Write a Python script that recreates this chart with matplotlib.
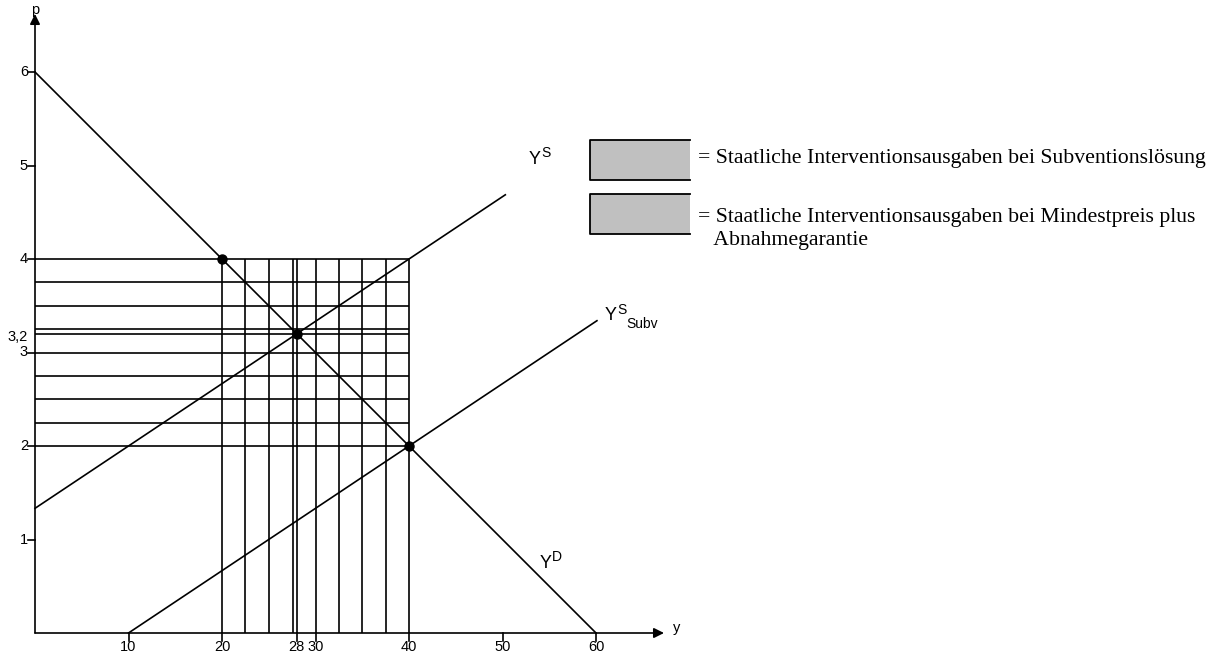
import matplotlib
matplotlib.use('Agg')
import matplotlib.pyplot as plt
from matplotlib.patches import Rectangle

# ── data ──
demand_x = [0, 60]
demand_p = [6, 0]
supply_x = [0, 50.3]
supply_p = [4 / 3, 4 / 3 + 50.3 / 15]
subv_x = [10, 60.1]
subv_p = [0, (60.1 - 10) / 15]
points_x = [20, 28, 40]
points_p = [4, 3.2, 2]
vgrid_x = [20, 22.5, 25, 27.6, 28, 30, 32.5, 35, 37.5, 40]
hgrid_p = [2, 2.25, 2.5, 2.75, 3, 3.2, 3.25, 3.5, 3.75, 4]
xticks = [10, 20, 28, 30, 40, 50, 60]
xtick_labels = ['10', '20', '28', '30', '40', '50', '60']
yticks = [1, 2, 3, 3.2, 4, 5, 6]
ytick_labels = ['1', '2', '3', '3,2', '4', '5', '6']
legend_texts = ['= Staatliche Interventionsausgaben bei Subventionslösung',
                '= Staatliche Interventionsausgaben bei Mindestpreis plus\n   Abnahmegarantie']

SX = 9.35   # px per unit y
SP = 93.5   # px per unit p
X0, P0 = 35, 633
W, H = 1226, 661

fig = plt.figure(figsize=(W / 100, H / 100), dpi=100)
ax = fig.add_axes([0, 0, 1, 1])
ax.set_xlim(-X0 / SX, (W - X0) / SX)
ax.set_ylim(-(H - P0) / SP, P0 / SP)
ax.axis('off')

def px(x):
    return (x - X0) / SX

def py(y):
    return (P0 - y) / SP

LW = 1.2
K = 'black'
SANS = 'Liberation Sans'

# grid rectangle lines
for x in vgrid_x:
    ax.plot([x, x], [0, 4], color=K, lw=LW, solid_capstyle='butt')
for p in hgrid_p:
    ax.plot([0, 40], [p, p], color=K, lw=LW, solid_capstyle='butt')

# curves
ax.plot(demand_x, demand_p, color=K, lw=LW)
ax.plot(supply_x, supply_p, color=K, lw=LW)
ax.plot(subv_x, subv_p, color=K, lw=LW)
ax.plot(points_x, points_p, 'o', color=K, ms=6.5)

# axes with arrows
ax.annotate('', xy=(0, py(14)), xytext=(0, 0),
            arrowprops=dict(arrowstyle='-|>', color=K, lw=LW, mutation_scale=15,
                            shrinkA=0, shrinkB=0))
ax.annotate('', xy=(px(664), 0), xytext=(0, 0),
            arrowprops=dict(arrowstyle='-|>', color=K, lw=LW, mutation_scale=15,
                            shrinkA=0, shrinkB=0))
ax.text(0, py(10), 'p', ha='center', va='center', fontsize=10.5, family=SANS)
ax.text(px(677), 0.05, 'y', ha='center', va='center', fontsize=10.5, family=SANS)

# ticks
for x, lab in zip(xticks, xtick_labels):
    ax.plot([x, x], [0, -8 / SP], color=K, lw=LW)
    ax.text(x, -0.15, lab, ha='center', va='center', fontsize=10.5, family=SANS)
for p, lab in zip(yticks, ytick_labels):
    if lab != '3,2':
        ax.plot([0, -7 / SX], [p, p], color=K, lw=LW)
    ax.text(-7 / SX, p - (0.035 if lab == '3,2' else 0), lab, ha='right', va='center',
            fontsize=10.5, family=SANS)

# curve labels
def curve_label(x, y, sup, sub=None):
    ax.text(px(x), py(y), 'Y', fontsize=13, family=SANS, ha='left', va='center')
    ax.text(px(x + 12), py(y - 6), sup, fontsize=10, family=SANS, ha='left', va='center')
    if sub:
        ax.text(px(x + 21), py(y + 8), sub, fontsize=10, family=SANS, ha='left', va='center')

curve_label(529, 159, 'S')
curve_label(540, 563, 'D')
curve_label(605, 316, 'S', 'Subv')

# legend
for i, txt in enumerate(legend_texts):
    top = 140 + i * 54
    ax.add_patch(Rectangle((px(590), py(top + 40)), 100 / SX, 40 / SP,
                           facecolor='#c0c0c0', edgecolor='none'))
    ax.plot([px(690), px(590), px(590), px(690)],
            [py(top), py(top), py(top + 40), py(top + 40)], color=K, lw=1.3)
    ax.text(px(698), py(159 if i == 0 else 229), txt, ha='left', va='center',
            fontsize=15.7, family='Liberation Serif', linespacing=1.25)

fig.savefig('out.png', dpi=100)
